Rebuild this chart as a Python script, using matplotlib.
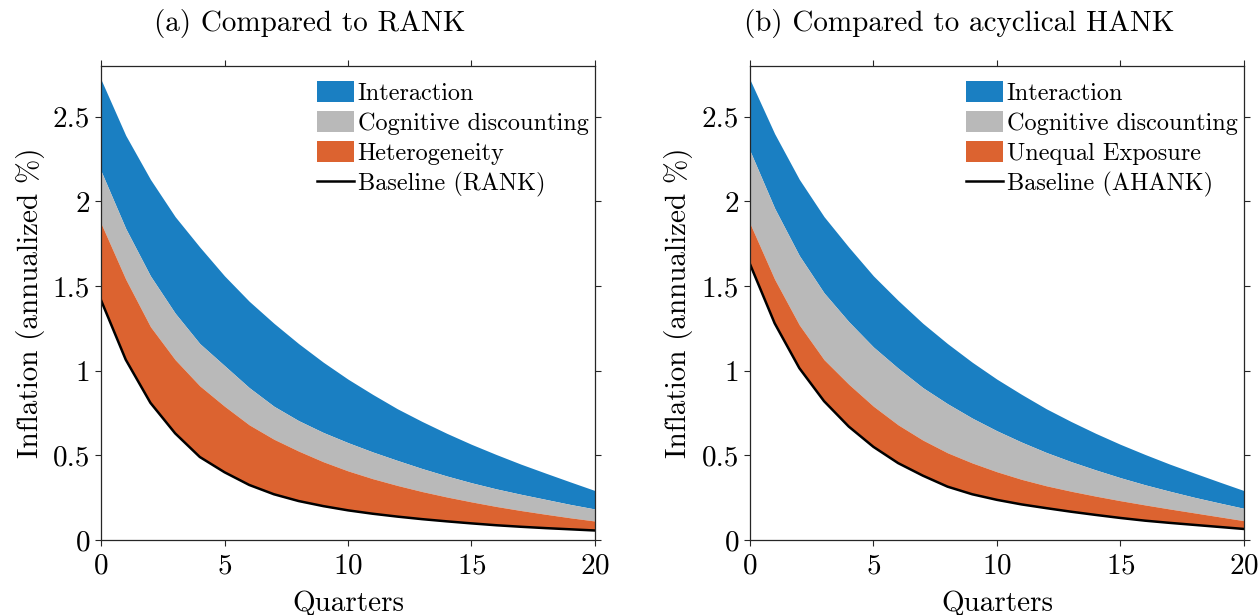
import numpy as np
import matplotlib
import matplotlib.pyplot as plt
from matplotlib.patches import Patch
from matplotlib.lines import Line2D
from matplotlib.ticker import FuncFormatter

matplotlib.use("Agg")

plt.rcParams["font.family"] = "cmr10"
plt.rcParams["mathtext.fontset"] = "cm"
plt.rcParams["axes.formatter.use_mathtext"] = True

quarters = np.arange(21)

# panel (a): decomposition relative to RANK, cumulative levels
rank_base = [1.416, 1.065, 0.81, 0.63, 0.49, 0.40, 0.325, 0.27, 0.23, 0.20, 0.175,
             0.155, 0.138, 0.123, 0.11, 0.098, 0.087, 0.078, 0.07, 0.063, 0.056]
rank_het = [1.87, 1.54, 1.26, 1.065, 0.91, 0.79, 0.68, 0.595, 0.525, 0.462, 0.408,
            0.362, 0.322, 0.286, 0.254, 0.225, 0.198, 0.174, 0.152, 0.131, 0.112]
rank_cog = [2.18, 1.84, 1.56, 1.34, 1.16, 1.03, 0.90, 0.79, 0.705, 0.635, 0.575,
            0.52, 0.47, 0.422, 0.378, 0.338, 0.302, 0.27, 0.24, 0.21, 0.183]
rank_total = [2.72, 2.39, 2.13, 1.91, 1.73, 1.56, 1.41, 1.28, 1.16, 1.05, 0.95,
              0.86, 0.775, 0.70, 0.63, 0.565, 0.505, 0.448, 0.395, 0.343, 0.292]

# panel (b): decomposition relative to acyclical HANK
ahank_base = [1.63, 1.28, 1.015, 0.82, 0.67, 0.55, 0.454, 0.38, 0.315, 0.27, 0.237,
              0.21, 0.188, 0.167, 0.148, 0.13, 0.114, 0.101, 0.089, 0.077, 0.065]
ahank_unequal = [1.87, 1.54, 1.27, 1.065, 0.92, 0.79, 0.68, 0.59, 0.515, 0.455, 0.403,
                 0.358, 0.32, 0.288, 0.259, 0.232, 0.207, 0.183, 0.16, 0.137, 0.114]
ahank_cog = [2.30, 1.96, 1.68, 1.46, 1.29, 1.14, 1.015, 0.90, 0.805, 0.72, 0.645,
             0.578, 0.517, 0.463, 0.414, 0.368, 0.326, 0.288, 0.252, 0.219, 0.187]
ahank_total = [2.72, 2.40, 2.13, 1.91, 1.73, 1.56, 1.415, 1.28, 1.16, 1.05, 0.95,
               0.86, 0.775, 0.70, 0.63, 0.565, 0.505, 0.448, 0.395, 0.343, 0.292]

c_blue = "#1a7fc2"
c_gray = "#b9b9b9"
c_orange = "#dc6330"

panels = [
    ("(a) Compared to RANK", rank_base, rank_het, rank_cog, rank_total,
     "Heterogeneity", "Baseline (RANK)"),
    ("(b) Compared to acyclical HANK", ahank_base, ahank_unequal, ahank_cog, ahank_total,
     "Unequal Exposure", "Baseline (AHANK)"),
]

fig = plt.figure(figsize=(12.6, 6.15), dpi=100)
lefts = [0.0802, 0.5952]

for left, (title, base, mid, cog, total, mid_lab, base_lab) in zip(lefts, panels):
    ax = fig.add_axes([left, 0.122, 0.392, 0.7707])
    ax.fill_between(quarters, cog, total, color=c_blue, lw=0)
    ax.fill_between(quarters, mid, cog, color=c_gray, lw=0)
    ax.fill_between(quarters, base, mid, color=c_orange, lw=0)
    ax.plot(quarters, base, color="k", lw=1.8)

    ax.set_xlim(0, 20)
    ax.set_ylim(0, 2.8)
    ax.set_xticks([0, 5, 10, 15, 20])
    ax.set_yticks([0, 0.5, 1, 1.5, 2, 2.5])
    ax.yaxis.set_major_formatter(FuncFormatter(lambda v, p: "%g" % v))
    ax.tick_params(direction="out", top=True, right=True, length=4.3, width=0.8,
                   labelsize=21, color="#262626", pad=3.5)
    ax.tick_params(axis="x", pad=5)
    for sp in ax.spines.values():
        sp.set_color("#262626")
        sp.set_linewidth(0.9)

    ax.set_title(title, fontsize=21, pad=25, x=0.423)
    ax.set_xlabel("Quarters", fontsize=21, labelpad=8)
    ax.set_ylabel("Inflation (annualized %)", fontsize=21, labelpad=6)

    handles = [
        Patch(facecolor=c_blue, edgecolor="none"),
        Patch(facecolor=c_gray, edgecolor="none"),
        Patch(facecolor=c_orange, edgecolor="none"),
        Line2D([], [], color="k", lw=1.8),
    ]
    labels = ["Interaction", "Cognitive discounting", mid_lab, base_lab]
    ax.legend(handles, labels, loc="upper left", bbox_to_anchor=(0.437, 0.969),
              frameon=False, fontsize=17.5, handlelength=1.52, handleheight=0.95,
              handletextpad=0.16, labelspacing=0.27, borderaxespad=0, borderpad=0)

fig.savefig("out.png", dpi=100)
